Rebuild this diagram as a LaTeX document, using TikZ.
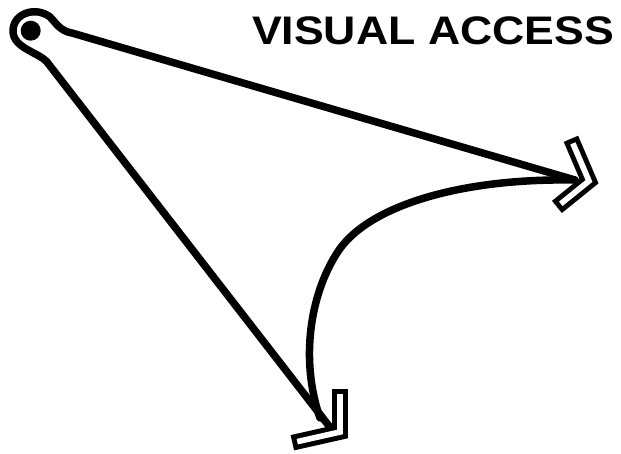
\documentclass[tikz,border=0pt]{standalone}
\usepackage{fontspec}
\setmainfont{Liberation Sans}
\usepackage{tikz}
\usetikzlibrary{calc}
\definecolor{ink}{HTML}{000000}
\tikzset{
  pen/.style={draw=ink, line width=2.25mm, line cap=round, line join=round},
  chevron/.style={draw=ink, line width=1.5mm, double=white, double distance=1.7mm, line cap=rect, line join=miter},
  lab/.style={font=\fontsize{34}{34}\selectfont\bfseries, text=ink, inner sep=0pt},
}

\begin{document}
\begin{tikzpicture}[x=0.3mm, y=-0.3mm]
    \fill[white] (0,0) rectangle (621,453);
    \useasboundingbox (0,0) rectangle (621,453);
    % eye and the two ends
    \coordinate (eye) at (30.7,30.7);
    \coordinate (eyeT) at (72,33);
    \coordinate (eyeB) at (47,62);
    \coordinate (tipR) at (575,180);
    \coordinate (tipB) at (329,426);
    \fill[ink] (eye) circle[radius=10];
    \draw[pen] (tipB) -- (eyeB) .. controls (38,52) and (13,48) .. (13,31)
      .. controls (13,13) and (36,6) .. (50,17) .. controls (56,23) and (60,31) .. (eyeT) -- (tipR);
    % curved sweep
    \draw[pen] (320,418) .. controls (300,360) and (310,295) .. (337,253)
      .. controls (365,208) and (455,178) .. (tipR);
    % heads
    \draw[chevron] (574,146) -- (589,181) -- (563,202);
    \draw[chevron] (340,397) -- (340,432) -- (300,441);
    \node[lab, xscale=1.12] (title) at (433,31) {VISUAL ACCESS};
\end{tikzpicture}
\end{document}
